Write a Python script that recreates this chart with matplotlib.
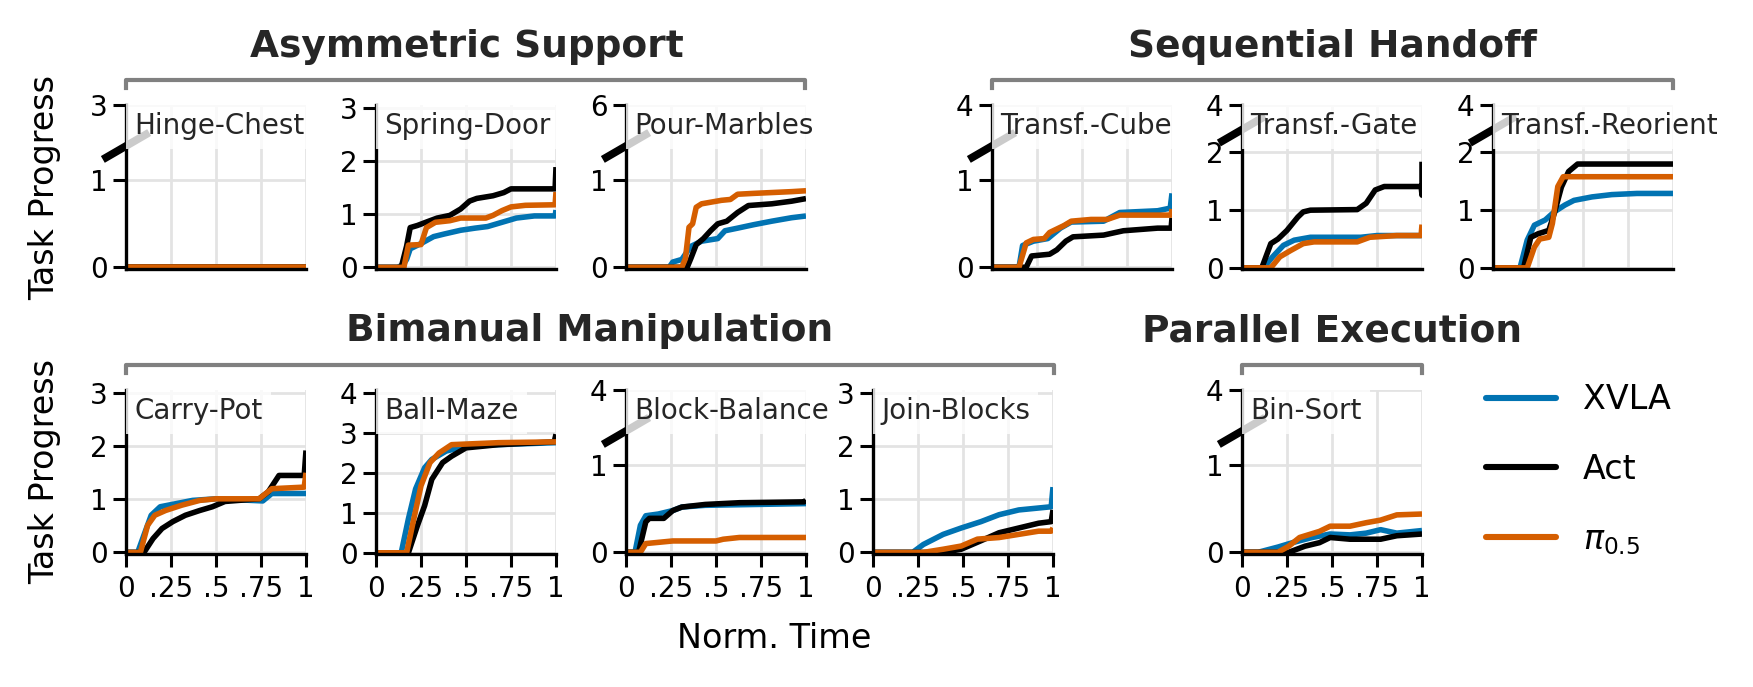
import numpy as np
import matplotlib
matplotlib.use('Agg')
import matplotlib.pyplot as plt
from matplotlib.lines import Line2D

# ---- data (normalized time, task progress) ----
hinge_xvla_t = [0, 1]
hinge_xvla_y = [0, 0]
hinge_act_t = [0, 1]
hinge_act_y = [0, 0]
hinge_pi_t = [0, 1]
hinge_pi_y = [0, 0]

spring_xvla_t = [0, 0.12, 0.15, 0.17, 0.19, 0.25, 0.32, 0.38, 0.47, 0.55, 0.62, 0.70, 0.78, 0.88, 0.995, 1.0]
spring_xvla_y = [0, 0, 0.05, 0.15, 0.35, 0.45, 0.58, 0.63, 0.70, 0.74, 0.77, 0.85, 0.93, 0.97, 0.97, 1.08]
spring_act_t = [0, 0.14, 0.17, 0.19, 0.23, 0.30, 0.34, 0.41, 0.47, 0.52, 0.56, 0.65, 0.71, 0.75, 0.995, 1.0]
spring_act_y = [0, 0, 0.4, 0.75, 0.79, 0.88, 0.93, 0.98, 1.1, 1.25, 1.3, 1.35, 1.41, 1.48, 1.48, 1.89]
spring_pi_t = [0, 0.155, 0.18, 0.25, 0.28, 0.33, 0.41, 0.47, 0.61, 0.65, 0.70, 0.75, 0.83, 0.995, 1.0]
spring_pi_y = [0, 0, 0.42, 0.43, 0.75, 0.85, 0.88, 0.93, 0.93, 0.98, 1.07, 1.14, 1.17, 1.18, 1.42]

pour_xvla_t = [0, 0.24, 0.26, 0.31, 0.36, 0.42, 0.51, 0.55, 0.62, 0.71, 0.81, 0.92, 1.0]
pour_xvla_y = [0, 0, 0.06, 0.09, 0.24, 0.30, 0.33, 0.42, 0.45, 0.49, 0.53, 0.57, 0.59]
pour_act_t = [0, 0.34, 0.36, 0.39, 0.43, 0.47, 0.51, 0.56, 0.62, 0.68, 0.81, 0.92, 1.0]
pour_act_y = [0, 0, 0.1, 0.26, 0.33, 0.42, 0.50, 0.53, 0.63, 0.71, 0.73, 0.76, 0.79]
pour_pi_t = [0, 0.31, 0.33, 0.35, 0.37, 0.39, 0.42, 0.53, 0.58, 0.62, 0.71, 0.92, 1.0]
pour_pi_y = [0, 0, 0.1, 0.46, 0.5, 0.69, 0.73, 0.77, 0.78, 0.84, 0.85, 0.87, 0.88]

cube_xvla_t = [0, 0.15, 0.17, 0.23, 0.31, 0.38, 0.44, 0.62, 0.71, 0.92, 0.99, 1.0]
cube_xvla_y = [0, 0, 0.25, 0.3, 0.33, 0.45, 0.52, 0.53, 0.63, 0.65, 0.68, 0.85]
cube_act_t = [0, 0.19, 0.22, 0.32, 0.36, 0.41, 0.45, 0.62, 0.73, 0.92, 0.995, 1.0]
cube_act_y = [0, 0, 0.13, 0.15, 0.2, 0.3, 0.35, 0.37, 0.42, 0.45, 0.45, 0.57]
cube_pi_t = [0, 0.15, 0.19, 0.23, 0.29, 0.32, 0.40, 0.44, 0.55, 0.64, 0.71, 0.995, 1.0]
cube_pi_y = [0, 0, 0.28, 0.32, 0.33, 0.4, 0.48, 0.53, 0.55, 0.55, 0.6, 0.6, 0.67]

gate_xvla_t = [0, 0.12, 0.17, 0.23, 0.29, 0.38, 0.66, 0.75, 0.995, 1.0]
gate_xvla_y = [0, 0, 0.19, 0.39, 0.48, 0.53, 0.53, 0.56, 0.56, 0.62]
gate_act_t = [0, 0.11, 0.16, 0.2, 0.25, 0.31, 0.34, 0.38, 0.64, 0.69, 0.74, 0.79, 0.995, 1.0, 1.0]
gate_act_y = [0, 0, 0.42, 0.5, 0.65, 0.88, 0.97, 1.0, 1.01, 1.12, 1.35, 1.41, 1.41, 1.26, 1.84]
gate_pi_t = [0, 0.16, 0.21, 0.27, 0.34, 0.40, 0.64, 0.71, 0.86, 0.995, 1.0]
gate_pi_y = [0, 0, 0.19, 0.3, 0.42, 0.45, 0.45, 0.53, 0.56, 0.56, 0.75]

reorient_xvla_t = [0, 0.15, 0.19, 0.23, 0.29, 0.34, 0.40, 0.45, 0.55, 0.66, 0.8, 1.0]
reorient_xvla_y = [0, 0, 0.48, 0.74, 0.83, 0.97, 1.09, 1.17, 1.23, 1.27, 1.29, 1.29]
reorient_act_t = [0, 0.17, 0.21, 0.25, 0.31, 0.34, 0.38, 0.42, 0.47, 1.0]
reorient_act_y = [0, 0, 0.53, 0.59, 0.65, 0.94, 1.4, 1.67, 1.8, 1.8]
reorient_pi_t = [0, 0.19, 0.23, 0.26, 0.31, 0.33, 0.36, 0.39, 1.0]
reorient_pi_y = [0, 0, 0.36, 0.5, 0.53, 0.77, 1.41, 1.58, 1.58]

carry_xvla_t = [0, 0.065, 0.10, 0.14, 0.19, 0.28, 0.37, 0.5, 0.76, 0.81, 1.0]
carry_xvla_y = [0, 0, 0.33, 0.7, 0.86, 0.92, 0.98, 1.01, 0.97, 1.11, 1.11]
carry_act_t = [0, 0.10, 0.15, 0.2, 0.26, 0.33, 0.41, 0.48, 0.55, 0.74, 0.79, 0.85, 0.99, 1.0]
carry_act_y = [0, 0, 0.26, 0.45, 0.58, 0.7, 0.79, 0.86, 0.96, 1.01, 1.14, 1.45, 1.45, 1.92]
carry_pi_t = [0, 0.08, 0.12, 0.16, 0.22, 0.31, 0.41, 0.5, 0.74, 0.81, 0.99, 1.0]
carry_pi_y = [0, 0, 0.51, 0.7, 0.79, 0.89, 0.98, 1.01, 1.01, 1.2, 1.23, 1.5]

maze_xvla_t = [0, 0.14, 0.18, 0.22, 0.27, 0.31, 0.39, 0.5, 0.68, 1.0]
maze_xvla_y = [0, 0, 0.85, 1.6, 2.13, 2.34, 2.55, 2.67, 2.71, 2.76]
maze_act_t = [0, 0.18, 0.23, 0.27, 0.31, 0.37, 0.42, 0.5, 0.68, 0.99, 1.0]
maze_act_y = [0, 0, 0.68, 1.18, 1.84, 2.26, 2.42, 2.63, 2.71, 2.78, 2.97]
maze_pi_t = [0, 0.17, 0.21, 0.25, 0.3, 0.35, 0.42, 0.68, 1.0]
maze_pi_y = [0, 0, 0.85, 1.68, 2.26, 2.5, 2.71, 2.76, 2.78]

balance_xvla_t = [0, 0.05, 0.08, 0.11, 0.18, 0.26, 0.31, 0.44, 1.0]
balance_xvla_y = [0, 0, 0.31, 0.42, 0.44, 0.48, 0.52, 0.54, 0.56]
balance_act_t = [0, 0.07, 0.11, 0.13, 0.21, 0.26, 0.31, 0.44, 0.63, 0.99, 1.0]
balance_act_y = [0, 0, 0.35, 0.39, 0.39, 0.48, 0.52, 0.55, 0.57, 0.58, 0.6]
balance_pi_t = [0, 0.08, 0.11, 0.26, 0.5, 0.54, 0.63, 1.0]
balance_pi_y = [0, 0, 0.1, 0.13, 0.13, 0.15, 0.17, 0.17]

join_xvla_t = [0, 0.22, 0.28, 0.39, 0.49, 0.6, 0.7, 0.81, 0.99, 1.0]
join_xvla_y = [0, 0, 0.15, 0.34, 0.46, 0.58, 0.71, 0.8, 0.86, 1.23]
join_act_t = [0, 0.39, 0.49, 0.6, 0.7, 0.81, 0.92, 0.99, 1.0]
join_act_y = [0, 0, 0.06, 0.22, 0.37, 0.46, 0.55, 0.58, 0.8]
join_pi_t = [0, 0.28, 0.39, 0.49, 0.58, 0.7, 0.81, 0.92, 0.99, 1.0]
join_pi_y = [0, 0, 0.06, 0.12, 0.25, 0.28, 0.34, 0.4, 0.4, 0.46]

binsort_xvla_t = [0, 0.09, 0.2, 0.28, 0.39, 0.49, 0.6, 0.69, 0.77, 0.86, 1.0]
binsort_xvla_y = [0, 0, 0.06, 0.11, 0.17, 0.21, 0.2, 0.22, 0.26, 0.22, 0.25]
binsort_act_t = [0, 0.26, 0.35, 0.43, 0.49, 0.6, 0.77, 0.86, 1.0]
binsort_act_y = [0, 0, 0.07, 0.11, 0.17, 0.15, 0.15, 0.19, 0.21]
binsort_pi_t = [0, 0.2, 0.26, 0.32, 0.43, 0.49, 0.6, 0.69, 0.77, 0.86, 1.0]
binsort_pi_y = [0, 0, 0.07, 0.17, 0.24, 0.3, 0.3, 0.34, 0.37, 0.43, 0.44]

methods = ['XVLA', 'Act', r'$\pi_{0.5}$']
colors = ['#0173B2', 'black', '#D55E00']
xticks = [0, 0.25, 0.5, 0.75, 1]
xticklabels = ['0', '.25', '.5', '.75', '1']

# ---- layout (pixels in a 1753x687 canvas) ----
W, H = 1753, 687
AW, AH = 180, 164
TOP_Y, BOT_Y = 105, 390

# name, series, left px, row top px, yticks, ymax, break (value, axes frac) or None, x labels
panels = [
    ('Hinge-Chest', [(hinge_xvla_t, hinge_xvla_y), (hinge_act_t, hinge_act_y), (hinge_pi_t, hinge_pi_y)],
     126, TOP_Y, [0, 1, 3], 3, (1.4, 0.75), False),
    ('Spring-Door', [(spring_xvla_t, spring_xvla_y), (spring_act_t, spring_act_y), (spring_pi_t, spring_pi_y)],
     376, TOP_Y, [0, 1, 2, 3], 3.06, None, False),
    ('Pour-Marbles', [(pour_xvla_t, pour_xvla_y), (pour_act_t, pour_act_y), (pour_pi_t, pour_pi_y)],
     626, TOP_Y, [0, 1, 6], 6, (1.4, 0.75), False),
    ('Transf.-Cube', [(cube_xvla_t, cube_xvla_y), (cube_act_t, cube_act_y), (cube_pi_t, cube_pi_y)],
     992, TOP_Y, [0, 1, 4], 4, (1.4, 0.75), False),
    ('Transf.-Gate', [(gate_xvla_t, gate_xvla_y), (gate_act_t, gate_act_y), (gate_pi_t, gate_pi_y)],
     1242, TOP_Y, [0, 1, 2, 4], 4, (2.4, 0.85), False),
    ('Transf.-Reorient', [(reorient_xvla_t, reorient_xvla_y), (reorient_act_t, reorient_act_y), (reorient_pi_t, reorient_pi_y)],
     1493, TOP_Y, [0, 1, 2, 4], 4, (2.4, 0.85), False),
    ('Carry-Pot', [(carry_xvla_t, carry_xvla_y), (carry_act_t, carry_act_y), (carry_pi_t, carry_pi_y)],
     126, BOT_Y, [0, 1, 2, 3], 3.06, None, True),
    ('Ball-Maze', [(maze_xvla_t, maze_xvla_y), (maze_act_t, maze_act_y), (maze_pi_t, maze_pi_y)],
     376, BOT_Y, [0, 1, 2, 3, 4], 4.08, None, True),
    ('Block-Balance', [(balance_xvla_t, balance_xvla_y), (balance_act_t, balance_act_y), (balance_pi_t, balance_pi_y)],
     626, BOT_Y, [0, 1, 4], 4, (1.4, 0.75), True),
    ('Join-Blocks', [(join_xvla_t, join_xvla_y), (join_act_t, join_act_y), (join_pi_t, join_pi_y)],
     873, BOT_Y, [0, 1, 2, 3], 3.06, None, True),
    ('Bin-Sort', [(binsort_xvla_t, binsort_xvla_y), (binsort_act_t, binsort_act_y), (binsort_pi_t, binsort_pi_y)],
     1242, BOT_Y, [0, 1, 4], 4, (1.4, 0.75), True),
]


def broken_scale(b, f, top):
    # piecewise linear: [0, b] fills fraction f, [b, top] squeezed into the rest
    def fwd(y):
        y = np.asarray(y, dtype=float)
        return np.where(y <= b, y / b * f, f + (y - b) / (top - b) * (1 - f)) * top

    def inv(z):
        z = np.asarray(z, dtype=float) / top
        return np.where(z <= f, z * b / f, b + (z - f) / (1 - f) * (top - b))
    return fwd, inv


plt.rcParams['font.family'] = 'DejaVu Sans'
fig = plt.figure(figsize=(W / 200, H / 200), dpi=200)

handles = []
for name, series, left, top_px, yticks, ymax, brk, xlab in panels:
    ax = fig.add_axes([left / W, 1 - (top_px + AH) / H, AW / W, AH / H])
    for (t, y), c in zip(series, colors):
        ln, = ax.plot(t, y, color=c, lw=2.0, solid_capstyle='butt', zorder=2)
        if name == 'Bin-Sort':
            handles.append(ln)
    if brk is not None:
        fwd, inv = broken_scale(brk[0], brk[1], ymax)
        ax.set_yscale('function', functions=(fwd, inv))
        ax.set_ylim(-0.02, ymax)
        ax.plot([-0.11, 0.11], [brk[1] - 0.07, brk[1] + 0.07], transform=ax.transAxes,
                color='black', lw=2.8, clip_on=False, zorder=3)
    else:
        ax.set_ylim(-0.03, ymax)
    ax.set_yticks(yticks)
    ax.set_yticklabels([str(v) for v in yticks])
    ax.set_xlim(0, 1)
    ax.set_xticks(xticks)
    ax.grid(True, color='#e3e3e3', lw=1.0, zorder=0)
    ax.set_axisbelow(True)
    for s in ['top', 'right']:
        ax.spines[s].set_visible(False)
    for s in ['left', 'bottom']:
        ax.spines[s].set_linewidth(1.2)
    ax.tick_params(axis='y', length=4.7, width=1.1, labelsize=10, pad=2)
    if xlab:
        ax.set_xticklabels(xticklabels)
        ax.tick_params(axis='x', length=4.7, width=1.1, labelsize=10, pad=3)
    else:
        ax.tick_params(axis='x', length=0, labelbottom=False)
    ax.text(0.045, 0.955, name, transform=ax.transAxes, ha='left', va='top', fontsize=10,
            color='#262626', zorder=5,
            bbox=dict(boxstyle='square,pad=0.3', facecolor='white', alpha=0.8, edgecolor='none'))

# group titles and brackets
groups = [
    ('Asymmetric Support', 126, 805, 80, 467, 47),
    ('Sequential Handoff', 992, 1673, 80, 1332, 47),
    ('Bimanual Manipulation', 126, 1054, 365, 590, 331),
    ('Parallel Execution', 1242, 1422, 365, 1332, 331),
]
for title, x0, x1, yb, xc, yt in groups:
    fig.text(xc / W, 1 - yt / H, title, ha='center', va='center', fontsize=13.5,
             fontweight='bold', color='#262626')
    fig.add_artist(Line2D([x0 / W, x0 / W, x1 / W, x1 / W],
                          [1 - (yb + 8) / H, 1 - yb / H, 1 - yb / H, 1 - (yb + 8) / H],
                          color='#808080', lw=1.5, transform=fig.transFigure))

fig.text(45 / W, 1 - (TOP_Y + AH / 2) / H, 'Task Progress', rotation=90, ha='center', va='center', fontsize=12)
fig.text(45 / W, 1 - (BOT_Y + AH / 2) / H, 'Task Progress', rotation=90, ha='center', va='center', fontsize=12)
fig.text(774 / W, 1 - 638 / H, 'Norm. Time', ha='center', va='center', fontsize=12)

leg = fig.legend(handles, methods, loc='center left', bbox_to_anchor=(1486 / W, 1 - 470 / H),
                 frameon=False, fontsize=12, handlelength=2.1, handletextpad=0.8,
                 labelspacing=1.1, borderpad=0, borderaxespad=0)
for h in leg.legend_handles:
    h.set_linewidth(2.2)
    h.set_solid_capstyle('round')

fig.savefig('out.png', dpi=200)
